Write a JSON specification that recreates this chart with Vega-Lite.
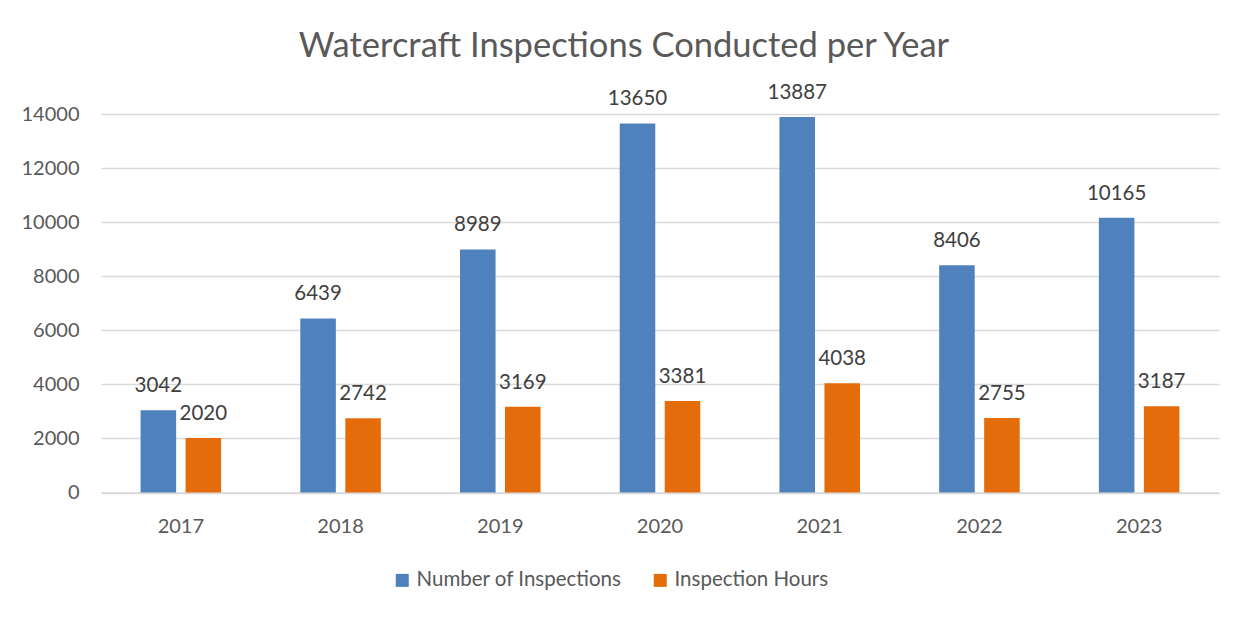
{
  "$schema": "https://vega.github.io/schema/vega-lite/v6.json",
  "autosize": {"type": "none"},
  "width": 1118,
  "height": 378.5,
  "padding": {"left": 101, "top": 114, "right": 30, "bottom": 126.5},
  "background": "white",
  "title": {
    "text": "Watercraft Inspections Conducted per Year",
    "font": "Lato",
    "fontSize": 34.5,
    "fontWeight": "normal",
    "color": "#595959",
    "anchor": "middle",
    "dx": -36,
    "offset": 19
  },
  "data": {
    "values": [
      {"year": "2017", "series": "Number of Inspections", "value": 3042},
      {"year": "2017", "series": "Inspection Hours", "value": 2020},
      {"year": "2018", "series": "Number of Inspections", "value": 6439},
      {"year": "2018", "series": "Inspection Hours", "value": 2742},
      {"year": "2019", "series": "Number of Inspections", "value": 8989},
      {"year": "2019", "series": "Inspection Hours", "value": 3169},
      {"year": "2020", "series": "Number of Inspections", "value": 13650},
      {"year": "2020", "series": "Inspection Hours", "value": 3381},
      {"year": "2021", "series": "Number of Inspections", "value": 13887},
      {"year": "2021", "series": "Inspection Hours", "value": 4038},
      {"year": "2022", "series": "Number of Inspections", "value": 8406},
      {"year": "2022", "series": "Inspection Hours", "value": 2755},
      {"year": "2023", "series": "Number of Inspections", "value": 10165},
      {"year": "2023", "series": "Inspection Hours", "value": 3187}
    ]
  },
  "encoding": {
    "x": {
      "field": "year",
      "type": "nominal",
      "scale": {"paddingInner": 0, "paddingOuter": 0},
      "axis": {
        "title": null,
        "labelAngle": 0,
        "labelFont": "Lato",
        "labelFontSize": 20,
        "labelColor": "#595959",
        "ticks": false,
        "tickSize": 0,
        "labelPadding": 24,
        "domainColor": "#d9d9d9",
        "domainWidth": 1.5,
        "grid": false
      }
    },
    "xOffset": {
      "field": "series",
      "type": "nominal",
      "scale": {"domain": ["Number of Inspections", "Inspection Hours"], "paddingInner": 0.21, "paddingOuter": 0.88}
    },
    "y": {
      "field": "value",
      "type": "quantitative",
      "scale": {"domain": [0, 14000], "nice": false},
      "axis": {
        "title": null,
        "values": [0, 2000, 4000, 6000, 8000, 10000, 12000, 14000],
        "format": "d",
        "labelFont": "Lato",
        "labelFontSize": 20,
        "labelColor": "#595959",
        "ticks": false,
        "tickSize": 0,
        "labelPadding": 22,
        "domain": false,
        "gridColor": "#d9d9d9",
        "gridWidth": 1.5
      }
    }
  },
  "layer": [
    {
      "mark": {"type": "bar"},
      "encoding": {
        "color": {
          "field": "series",
          "type": "nominal",
          "scale": {"domain": ["Number of Inspections", "Inspection Hours"], "range": ["#4f81bd", "#e46c0a"]},
          "legend": {
            "title": null,
            "orient": "none",
            "direction": "horizontal",
            "legendX": 291,
            "legendY": 456,
            "symbolType": "square",
            "symbolSize": 169,
            "symbolStrokeWidth": 0,
            "labelFont": "Lato",
            "labelFontSize": 20.5,
            "labelLimit": 500,
            "labelColor": "#595959",
            "labelOffset": 4,
            "columnPadding": 28
          }
        }
      }
    },
    {
      "mark": {"type": "text", "baseline": "alphabetic", "dy": -18, "font": "Lato", "fontSize": 20.5, "color": "#404040"},
      "encoding": {
        "text": {"field": "value", "type": "quantitative", "format": "d"}
      }
    }
  ],
  "config": {
    "view": {"stroke": null}
  }
}
